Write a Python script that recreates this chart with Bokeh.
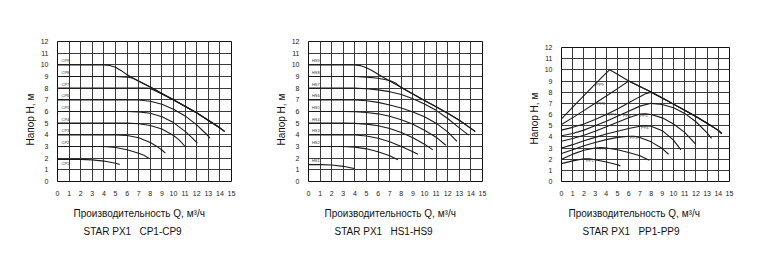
from bokeh.plotting import figure
from bokeh.layouts import row, column
from bokeh.models import Title, FixedTicker, Range1d, ColumnDataSource, Spacer
from bokeh.core.properties import value
from bokeh.embed import file_html
from bokeh.resources import INLINE
import numpy as np

# ---------------- data ----------------
x_ticks = list(range(0, 16))
y_ticks = list(range(0, 13))
y_title = "Напор Н, м"
x_title = "Производительность Q, м³/ч"
subtitles = ["STAR PX1\u00a0\u00a0\u00a0CP1-CP9", "STAR PX1\u00a0\u00a0\u00a0HS1-HS9", "STAR PX1\u00a0\u00a0\u00a0PP1-PP9"]

cp_names = ["CP9", "CP8", "CP7", "CP6", "CP5", "CP4", "CP3", "CP2", "CP1"]
cp9_q = [0, 1, 2, 3, 4, 4.5, 5, 5.5, 6, 7, 8, 9, 10, 11, 12, 13, 14, 14.4]
cp9_h = [10, 10, 10, 10, 10, 9.95, 9.8, 9.5, 9.15, 8.6, 8.1, 7.55, 7.0, 6.45, 5.9, 5.25, 4.6, 4.3]
cp8_q = [0, 1, 2, 3, 4, 5, 6, 6.5, 7, 8, 9, 10, 11, 12, 13, 14, 14.4]
cp8_h = [9, 9, 9, 9, 9, 9, 8.95, 8.85, 8.62, 8.1, 7.55, 7.0, 6.45, 5.9, 5.25, 4.6, 4.3]
cp7_q = [0, 1, 2, 3, 4, 5, 6, 7, 7.5, 8, 9, 10, 11, 12, 13, 14, 14.4]
cp7_h = [8, 8, 8, 8, 8, 8, 8, 8, 8, 7.98, 7.5, 6.98, 6.43, 5.88, 5.23, 4.58, 4.3]
cp6_q = [0, 1, 2, 3, 4, 5, 6, 7, 8, 9, 10, 11, 12, 13, 13.15]
cp6_h = [7, 7, 7, 7, 7, 7, 7, 6.98, 6.88, 6.62, 6.2, 5.62, 4.85, 3.9, 3.71]
cp5_q = [0, 1, 2, 3, 4, 5, 6, 7, 8, 9, 10, 11, 11.5, 12.06]
cp5_h = [6, 6, 6, 6, 6, 6, 6, 5.97, 5.85, 5.55, 5.05, 4.3, 3.85, 3.29]
cp4_q = [0, 1, 2, 3, 4, 5, 6, 7, 8, 9, 10, 10.5, 11]
cp4_h = [5, 5, 5, 5, 5, 5, 5, 4.95, 4.8, 4.5, 3.95, 3.55, 3.0]
cp3_q = [0, 1, 2, 3, 4, 5, 6, 7, 8, 8.5, 9, 9.3]
cp3_h = [4, 4, 4, 4, 4, 4, 3.95, 3.75, 3.35, 3.05, 2.7, 2.43]
cp2_q = [0, 1, 2, 3, 4, 5, 6, 7, 7.5, 7.87]
cp2_h = [3, 3, 3, 3, 3, 2.92, 2.72, 2.42, 2.22, 2.0]
cp1_q = [0, 1, 2, 3, 4, 5, 5.37]
cp1_h = [1.9, 1.9, 1.9, 1.85, 1.75, 1.57, 1.46]

hs_names = ["HS9", "HS8", "HS7", "HS6", "HS5", "HS4", "HS3", "HS2", "HS1"]
hs9_q = [0, 1, 2, 3, 4, 4.5, 5, 5.5, 6, 7, 8, 9, 10, 11, 12, 13, 14, 14.37]
hs9_h = [10, 10, 10, 10, 10, 9.93, 9.75, 9.5, 9.2, 8.62, 8.05, 7.5, 6.95, 6.4, 5.85, 5.25, 4.55, 4.29]
hs8_q = [0, 1, 2, 3, 4, 5, 6, 7, 7.5, 8, 9, 10, 11, 12, 13, 14, 14.37]
hs8_h = [9, 9, 9, 9, 9, 8.95, 8.85, 8.65, 8.45, 8.05, 7.5, 6.95, 6.4, 5.85, 5.25, 4.55, 4.29]
hs7_q = [0, 1, 2, 3, 4, 5, 6, 7, 8, 9, 10, 11, 12, 13, 13.8]
hs7_h = [8, 8, 8, 8, 8, 7.95, 7.85, 7.7, 7.45, 7.1, 6.65, 6.1, 5.4, 4.6, 3.97]
hs6_q = [0, 1, 2, 3, 4, 5, 6, 7, 8, 9, 10, 11, 12, 12.8]
hs6_h = [7, 7, 7, 7, 6.98, 6.92, 6.78, 6.55, 6.3, 5.95, 5.55, 5.0, 4.25, 3.43]
hs5_q = [0, 1, 2, 3, 4, 5, 6, 7, 8, 9, 10, 11, 11.84]
hs5_h = [6, 6, 6, 6, 5.98, 5.92, 5.8, 5.6, 5.3, 4.9, 4.4, 3.8, 3.11]
hs4_q = [0, 1, 2, 3, 4, 5, 6, 7, 8, 9, 10, 10.72]
hs4_h = [5, 5, 5, 5, 4.98, 4.92, 4.78, 4.55, 4.2, 3.75, 3.2, 2.71]
hs3_q = [0, 1, 2, 3, 4, 5, 6, 7, 8, 9, 9.43]
hs3_h = [4, 4, 4, 4, 3.98, 3.9, 3.7, 3.4, 3.0, 2.55, 2.34]
hs2_q = [0, 1, 2, 3, 4, 5, 6, 7, 7.7]
hs2_h = [3, 3, 3, 3, 2.95, 2.8, 2.55, 2.2, 1.86]
hs1_q = [0, 1, 2, 3, 3.5, 3.94]
hs1_h = [1.45, 1.45, 1.42, 1.3, 1.2, 1.11]

pp_names = ["PP9", "PP8", "PP7", "PP6", "PP5", "PP4", "PP3", "PP2", "PP1"]
pp9_q = [0, 1, 2, 3, 4, 4.3, 5, 6, 7, 8, 9, 10, 11, 12, 13, 14, 14.3]
pp9_h = [5.6, 6.65, 7.7, 8.72, 9.72, 10.0, 9.6, 9.0, 8.5, 8.02, 7.47, 6.93, 6.38, 5.82, 5.22, 4.58, 4.3]
pp8_q = [0, 1, 2, 3, 4, 5, 6, 7, 8, 9, 10, 11, 12, 13, 14, 14.3]
pp8_h = [5.1, 5.72, 6.35, 7.0, 7.65, 8.32, 9.0, 8.5, 8.02, 7.47, 6.93, 6.38, 5.82, 5.22, 4.58, 4.3]
pp7_q = [0, 1, 2, 3, 4, 5, 6, 7, 7.5, 8, 9, 10, 11, 12, 13, 14, 14.3]
pp7_h = [4.6, 4.85, 5.15, 5.55, 6.0, 6.5, 7.05, 7.6, 7.85, 8.0, 7.47, 6.93, 6.38, 5.82, 5.22, 4.58, 4.3]
pp6_q = [0, 1, 2, 3, 4, 5, 6, 7, 8, 9, 10, 11, 12, 13, 13.4]
pp6_h = [4.1, 4.3, 4.6, 5.0, 5.4, 5.85, 6.3, 6.75, 7.0, 6.9, 6.6, 6.1, 5.35, 4.35, 3.87]
pp5_q = [0, 1, 2, 3, 4, 5, 6, 7, 7.5, 8, 9, 10, 11, 12]
pp5_h = [3.6, 3.85, 4.15, 4.5, 4.9, 5.3, 5.7, 6.05, 6.07, 6.0, 5.7, 5.15, 4.4, 3.33]
pp4_q = [0, 1, 2, 3, 4, 5, 6, 7, 7.5, 8, 9, 10, 10.66]
pp4_h = [3.0, 3.3, 3.65, 3.95, 4.25, 4.5, 4.75, 4.95, 5.0, 4.95, 4.55, 3.7, 2.83]
pp3_q = [0, 1, 2, 3, 4, 5, 6, 6.5, 7, 8, 9, 9.56]
pp3_h = [2.5, 2.85, 3.2, 3.5, 3.75, 3.95, 4.05, 4.05, 3.95, 3.55, 2.95, 2.44]
pp2_q = [0, 1, 2, 3, 3.5, 4, 5, 6, 7, 7.84]
pp2_h = [2.0, 2.45, 2.8, 3.0, 3.05, 3.0, 2.85, 2.6, 2.3, 1.9]
pp1_q = [0, 1, 2, 2.5, 3, 4, 5, 5.26]
pp1_h = [1.6, 1.85, 2.03, 2.03, 1.95, 1.75, 1.5, 1.4]

cp_curves = [(cp9_q, cp9_h), (cp8_q, cp8_h), (cp7_q, cp7_h), (cp6_q, cp6_h), (cp5_q, cp5_h),
             (cp4_q, cp4_h), (cp3_q, cp3_h), (cp2_q, cp2_h), (cp1_q, cp1_h)]
hs_curves = [(hs9_q, hs9_h), (hs8_q, hs8_h), (hs7_q, hs7_h), (hs6_q, hs6_h), (hs5_q, hs5_h),
             (hs4_q, hs4_h), (hs3_q, hs3_h), (hs2_q, hs2_h), (hs1_q, hs1_h)]
pp_curves = [(pp9_q, pp9_h), (pp8_q, pp8_h), (pp7_q, pp7_h), (pp6_q, pp6_h), (pp5_q, pp5_h),
             (pp4_q, pp4_h), (pp3_q, pp3_h), (pp2_q, pp2_h), (pp1_q, pp1_h)]

FONT = "Liberation Sans"
LINE = "#1a1a1a"
TOP = 41
BOTTOM = 93


def make_fig(fw, fh, left, right, y_off):
    p = figure(frame_width=fw, frame_height=fh, min_border_left=left, min_border_right=right,
               min_border_top=TOP, min_border_bottom=BOTTOM,
               x_range=Range1d(0, 15), y_range=Range1d(0, 12),
               output_backend="svg", toolbar_location=None)
    p.background_fill_color = "white"
    p.border_fill_color = "white"
    p.outline_line_color = "#111111"
    p.outline_line_width = 1
    for ax in (p.xaxis, p.yaxis):
        ax.axis_line_color = None
        ax.major_tick_line_color = None
        ax.minor_tick_line_color = None
        ax.major_label_text_font = FONT
        ax.major_label_text_font_size = "7px"
        ax.major_label_text_color = "#222222"
        ax.major_label_standoff = 3
    p.xaxis.ticker = FixedTicker(ticks=x_ticks)
    p.yaxis.ticker = FixedTicker(ticks=y_ticks)
    p.xgrid.ticker = FixedTicker(ticks=x_ticks)
    p.ygrid.ticker = FixedTicker(ticks=y_ticks)
    for g in (p.xgrid, p.ygrid):
        g.grid_line_color = "#3a3a3a"
        g.grid_line_width = 1
        g.grid_line_alpha = 1
    p.add_layout(Title(text=y_title, align="left", offset=y_off, text_font=FONT,
                       text_font_size="10px", text_font_style="normal",
                       text_color="#111111", standoff=4), "left")
    return p


def add_titles(p, sub, t_off, s_off):
    p.add_layout(Title(text=x_title, align="left", offset=t_off, text_font=FONT,
                       text_font_size="10px", text_font_style="normal",
                       text_color="#111111", standoff=14), "below")
    p.add_layout(Title(text=sub, align="left", offset=s_off, text_font=FONT,
                       text_font_size="10px", text_font_style="normal",
                       text_color="#111111", standoff=0, vertical_align="top"), "below")


def draw_curves(p, curves, width=1.1):
    for q, h in curves:
        p.line(q, h, line_color=LINE, line_width=width)


def curve_labels(p, names, xs, ys, baseline="bottom"):
    src = ColumnDataSource(dict(x=xs, y=ys, t=names))
    p.text(x="x", y="y", text="t", source=src, text_font=value(FONT),
           text_font_size="4px", text_color="#333333", text_baseline=baseline,
           text_align="left")


# ---- chart 1: CP ----
p1 = make_fig(174, 140, 57, 23, 36)
draw_curves(p1, cp_curves)
cp_lx = [0.35] * 9
cp_ly = [c[1][0] + 0.12 for c in cp_curves]
cp_ly[-1] = cp_curves[-1][1][0] - 0.55
curve_labels(p1, cp_names, cp_lx, cp_ly)
add_titles(p1, subtitles[0], 16, 26)

# ---- chart 2: HS ----
p2 = make_fig(174, 140, 54, 26, 36)
draw_curves(p2, hs_curves)
hs_lx = [0.3] * 9
hs_ly = [c[1][0] + 0.12 for c in hs_curves]
curve_labels(p2, hs_names, hs_lx, hs_ly)
add_titles(p2, subtitles[1], 16, 26)

# ---- chart 3: PP ----
p3 = make_fig(168, 134, 53, 33, 37)
draw_curves(p3, pp_curves)
pp_lx = [3.1, 3.2, 4.2, 5.5, 7.0, 7.1, 6.1, 3.4, 2.2]
pp_ly = [float(np.interp(x, c[0], c[1])) - 0.35 for x, c in zip(pp_lx, pp_curves)]
curve_labels(p3, pp_names, pp_lx, pp_ly)
add_titles(p3, subtitles[2], 7, 21)

layout = row(p1, p2, column(Spacer(width=254, height=6), p3, spacing=0), spacing=0)
open("out.html", "w").write(file_html(layout, INLINE))
